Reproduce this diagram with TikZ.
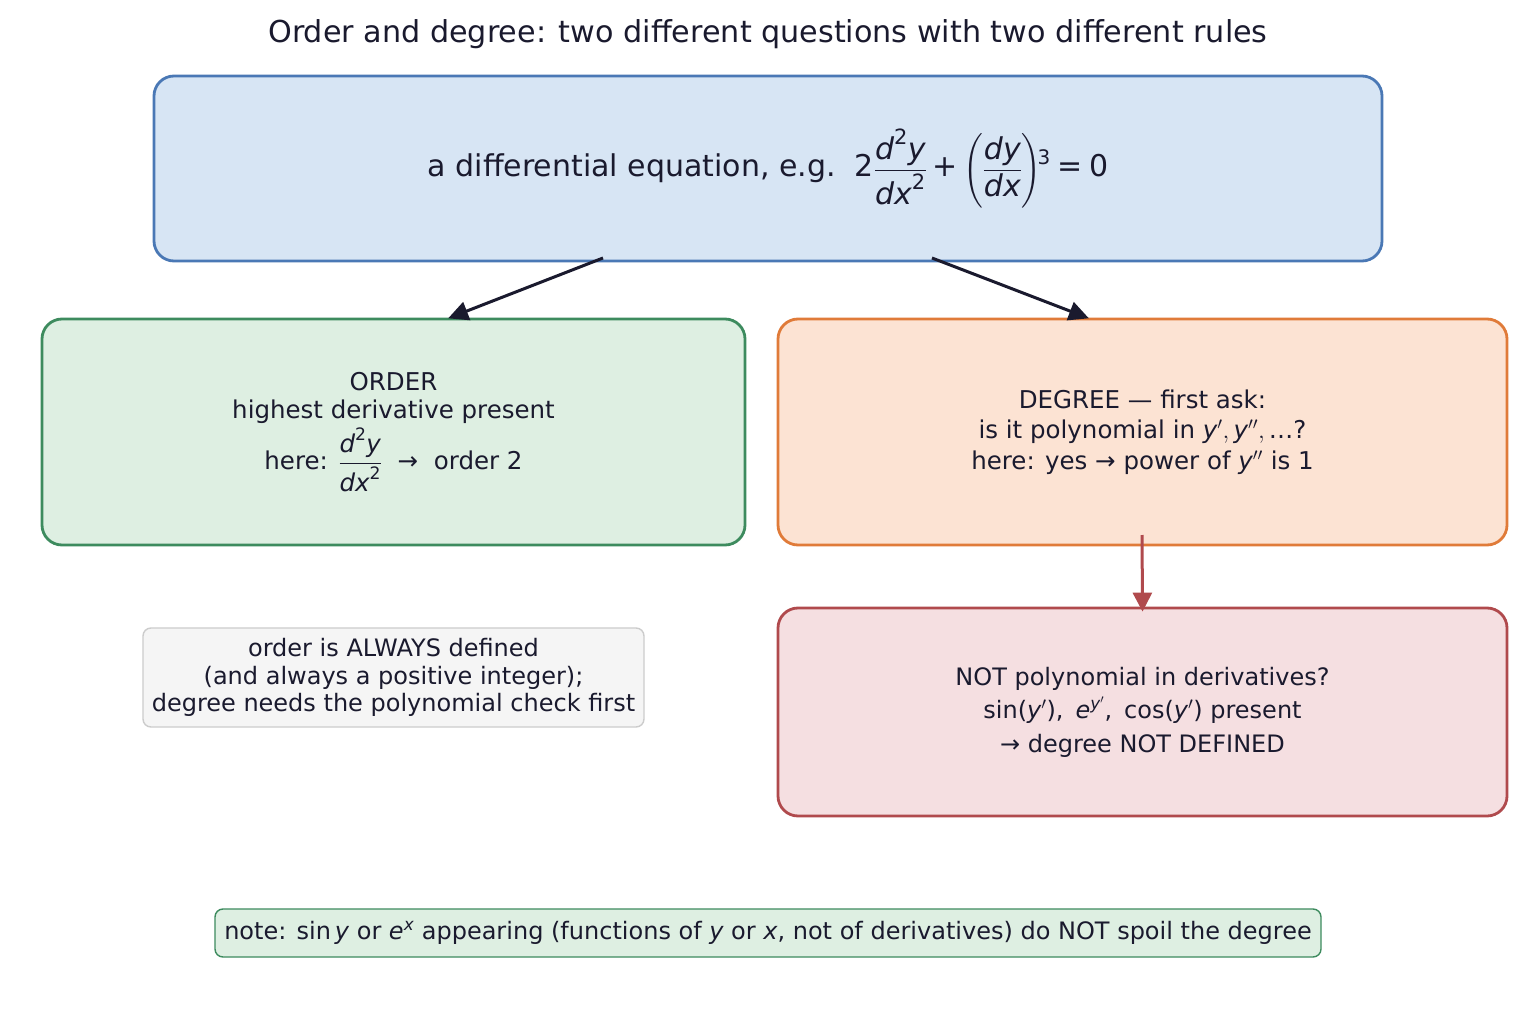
\documentclass[tikz,border=0pt]{standalone}
\usepackage{amsmath}
\usepackage{fontspec}
\setmainfont{DejaVu Sans}
\usetikzlibrary{arrows.meta}
\newcommand\mv[1]{\textit{#1}}
\newcommand\tn[1]{\text{#1}}
\definecolor{ink}{HTML}{1A1A2E}
\definecolor{bluefill}{HTML}{D7E5F4}
\definecolor{blueline}{HTML}{4A78B5}
\definecolor{greenfill}{HTML}{DEEFE2}
\definecolor{greenline}{HTML}{3D8B5E}
\definecolor{orangefill}{HTML}{FCE3D3}
\definecolor{orangeline}{HTML}{E07B39}
\definecolor{redfill}{HTML}{F5DFE1}
\definecolor{redline}{HTML}{B04A4D}
\definecolor{grayfill}{HTML}{F5F5F5}
\definecolor{grayline}{HTML}{CCCCCC}
\begin{document}
\begin{tikzpicture}[x=1pt,y=-1pt,
  bigbox/.style={draw, line width=2.8pt, rounded corners=20pt, align=center, text=ink, inner sep=0pt},
  smallbox/.style={draw, line width=1.4pt, rounded corners=8pt, align=center, text=ink, inner sep=0pt},
  conn/.style={line width=3pt, draw=ink, -{Triangle[length=20pt,width=19pt]}},
  redconn/.style={line width=3pt, draw=redline, -{Triangle[length=19pt,width=19pt]}}]
\useasboundingbox[fill=white] (0,0) rectangle (1536,1024);
\node[text=ink, font=\fontsize{30.2}{36}\selectfont] (title) at (768,34) {Order and degree: two different questions with two different rules};
\node[bigbox, fill=bluefill, draw=blueline, minimum width=1228pt, minimum height=185pt, font=\fontsize{30}{36}\selectfont] (eq) at (768,168.5)
  {a differential equation, e.g.\ \ $\displaystyle \tn{2}\frac{\mv{d}^{\tn{2}}\mv{y}}{\mv{dx}^{\tn{2}}}\mathbin{\tn{+}}\left(\frac{\mv{dy}}{\mv{dx}}\right)\mkern-6mu\raisebox{0.4em}{\fontsize{20}{20}\selectfont 3}\mathrel{\tn{=}}\tn{0}$};
\node[bigbox, fill=greenfill, draw=greenline, minimum width=703pt, minimum height=226pt, font=\fontsize{24.5}{28}\selectfont] (order) at (393.5,432)
  {ORDER\\highest derivative present\\[4pt]here: $\dfrac{\mv{d}^{\tn{2}}\mv{y}}{\mv{dx}^{\tn{2}}}$\ \ →\ \ order 2};
\node[bigbox, fill=orangefill, draw=orangeline, minimum width=729pt, minimum height=226pt, font=\fontsize{24.5}{30.5}\selectfont] (degree) at (1142.5,432)
  {DEGREE — first ask:\\is it polynomial in $\mv{y}',\mv{y}'',\tn{…}$?\\here: yes → power of $\mv{y}''$ is 1};
\node[bigbox, fill=redfill, draw=redline, minimum width=729pt, minimum height=208pt, font=\fontsize{24}{33.5}\selectfont] (notdef) at (1142.5,712)
  {NOT polynomial in derivatives?\\sin($\mv{y}'$),\enspace$\mv{e}^{\mv{y}'}$,\enspace cos($\mv{y}'$) present\\→ degree NOT DEFINED};
\node[smallbox, fill=grayfill, draw=grayline, minimum width=501pt, minimum height=99pt, font=\fontsize{24}{27.5}\selectfont] (always) at (393.5,677.5)
  {order is ALWAYS defined\\(and always a positive integer);\\degree needs the polynomial check first};
\node[smallbox, fill=greenfill, draw=greenline, minimum width=1106pt, minimum height=48pt, font=\fontsize{24}{28}\selectfont] (note) at (768,933)
  {note: sin\,$\mv{y}$ or $\mv{e}^{\mv{x}}$ appearing (functions of $\mv{y}$ or $\mv{x}$, not of derivatives) do NOT spoil the degree};
\coordinate (a1) at (603,258);
\coordinate (a2) at (932,258);
\coordinate (r1) at (1142,535);
\draw[conn, shorten >=-2pt] (a1) -- (order.north -| 450,0);
\draw[conn, shorten >=-2pt] (a2) -- (degree.north -| 1087,0);
\draw[redconn, shorten >=-5pt] (r1) -- (notdef.north);
\end{tikzpicture}
\end{document}
